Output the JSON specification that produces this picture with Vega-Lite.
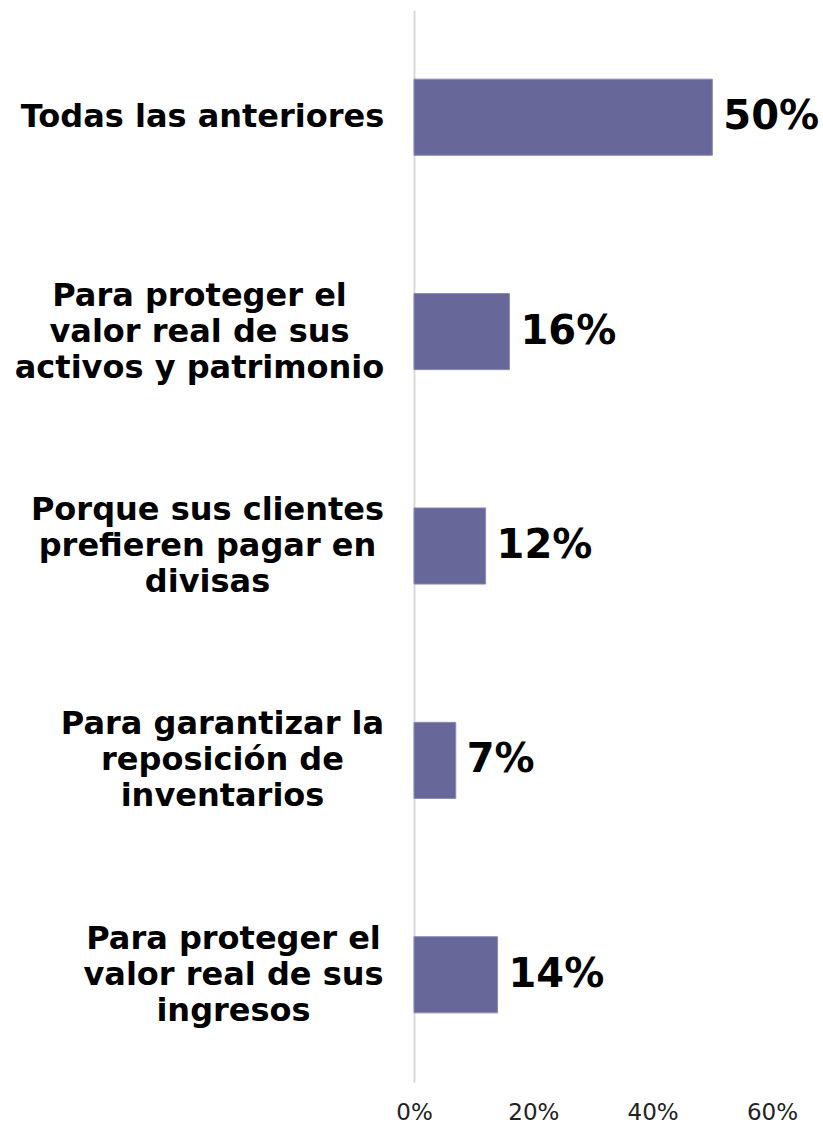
{
  "$schema": "https://vega.github.io/schema/vega-lite/v6.json",
  "width": 358,
  "height": 1072,
  "autosize": {"type": "none"},
  "padding": {"left": 414, "top": 10, "right": 51, "bottom": 43},
  "background": "white",
  "config": {"view": {"stroke": null}, "font": "DejaVu Sans"},
  "data": {
    "values": [
      {"reason": "Todas las anteriores", "value": 0.50},
      {"reason": "Para proteger el|valor real de sus|activos y patrimonio", "value": 0.16},
      {"reason": "Porque sus clientes|prefieren pagar en|divisas", "value": 0.12},
      {"reason": "Para garantizar la|reposición de|inventarios", "value": 0.07},
      {"reason": "Para proteger el|valor real de sus|ingresos", "value": 0.14}
    ]
  },
  "encoding": {
    "y": {
      "field": "reason",
      "type": "nominal",
      "sort": null,
      "scale": {"paddingInner": 0.645, "paddingOuter": 0.3225},
      "axis": {
        "title": null,
        "ticks": false,
        "domain": true,
        "domainColor": "#d9d9d9",
        "domainWidth": 2,
        "labelExpr": "length(split(datum.label, '|')) == 1 ? ['', datum.label, ''] : split(datum.label, '|')",
        "labelFont": "DejaVu Sans",
        "labelFontWeight": "bold",
        "labelFontSize": 32,
        "labelLineHeight": 36,
        "labelOffset": -36,
        "labelColor": "#000000",
        "labelAlign": "center",
        "labelPadding": {
          "condition": [
            {"test": "indexof(datum.value, 'activos') >= 0", "value": 215},
            {"test": "indexof(datum.value, 'Porque') >= 0", "value": 207},
            {"test": "indexof(datum.value, 'garantizar') >= 0", "value": 192},
            {"test": "indexof(datum.value, 'ingresos') >= 0", "value": 181}
          ],
          "value": 212
        },
        "labelLimit": 420
      }
    },
    "x": {
      "field": "value",
      "type": "quantitative",
      "scale": {"domain": [0, 0.6], "nice": false},
      "axis": {
        "title": null,
        "format": ".0%",
        "values": [0, 0.2, 0.4, 0.6],
        "grid": false,
        "domain": false,
        "ticks": false,
        "labelFont": "DejaVu Sans",
        "labelFontSize": 23,
        "labelColor": "#222222",
        "labelPadding": 19,
        "labelFlush": false,
        "labelOverlap": false
      }
    }
  },
  "layer": [
    {
      "mark": {"type": "bar", "color": "#67679a", "stroke": "#8a8ab5", "strokeWidth": 1}
    },
    {
      "mark": {
        "type": "text",
        "align": "left",
        "baseline": "middle",
        "dx": 11,
        "font": "DejaVu Sans",
        "fontWeight": "bold",
        "fontSize": 40,
        "color": "#000000"
      },
      "encoding": {
        "text": {"field": "value", "type": "quantitative", "format": ".0%"}
      }
    }
  ]
}
